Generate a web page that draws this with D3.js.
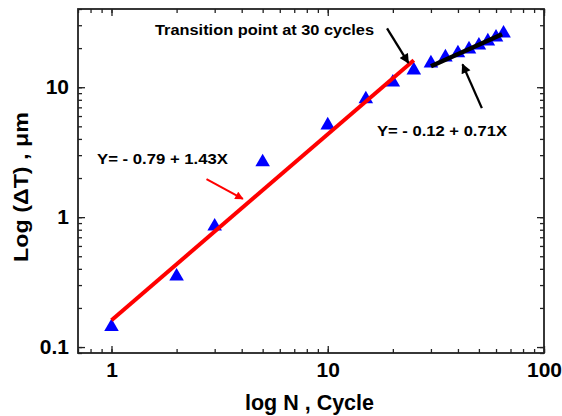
<!DOCTYPE html>
<html>
<head>
<meta charset="utf-8">
<script src="https://cdn.jsdelivr.net/npm/d3@7"></script>
<style>
  body { margin: 0; background: #fff; }
  text { font-family: "Liberation Sans", Arial, sans-serif; font-weight: bold; }
</style>
</head>
<body>
<script>
// measured data: cycles N vs deformation dT (um)
var cycles = [1, 2, 3, 5, 10, 15, 20, 25, 30, 35, 40, 45, 50, 55, 60, 65];
var deltaT = [0.143, 0.35, 0.85, 2.65, 5.1, 8.1, 10.9, 13.5, 15.3, 17.0, 18.3, 19.6, 21.0, 22.6, 24.2, 26.0];

// fitted lines (end points)
var fit1N = [1, 25];
var fit1T = [0.161, 16.1];
var fit2N = [30, 64];
var fit2T = [14.5, 25.6];

var xTickLabels = [1, 10, 100];
var yTickLabels = [0.1, 1, 10];

var margin = {left: 78, top: 9, right: 18, bottom: 63};
var W = 562, H = 416;
var w = W - margin.left - margin.right;
var h = H - margin.top - margin.bottom;

var svg = d3.select("body").append("svg")
    .attr("width", W)
    .attr("height", H);

svg.append("defs").selectAll("marker")
    .data([{id: "headBlack", color: "#000"}, {id: "headRed", color: "#ff0000"}])
    .enter().append("marker")
    .attr("id", function(d){ return d.id; })
    .attr("viewBox", "0 -5 10 10")
    .attr("refX", 9)
    .attr("refY", 0)
    .attr("markerWidth", 4.6)
    .attr("markerHeight", 4.2)
    .attr("markerUnits", "strokeWidth")
    .attr("orient", "auto")
    .append("path")
    .attr("d", "M0,-5L10,0L0,5Z")
    .attr("fill", function(d){ return d.color; });

var g = svg.append("g")
    .attr("transform", "translate(" + margin.left + "," + margin.top + ")");

var x = d3.scaleLog().domain([0.7, 100]).range([0, w]);
var y = d3.scaleLog().domain([0.09, 40]).range([h, 0]);

// minor ticks on all four sides, pointing inward
g.append("g").attr("transform", "translate(0," + h + ")")
    .call(d3.axisBottom(x).tickValues(x.ticks()).tickSize(-4).tickFormat(""));
g.append("g")
    .call(d3.axisTop(x).tickValues(x.ticks()).tickSize(-4).tickFormat(""));
g.append("g")
    .call(d3.axisLeft(y).tickValues(y.ticks()).tickSize(-4).tickFormat(""));
g.append("g").attr("transform", "translate(" + w + ",0)")
    .call(d3.axisRight(y).tickValues(y.ticks()).tickSize(-4).tickFormat(""));

// major ticks + labels
g.append("g").attr("class", "xmajor").attr("transform", "translate(0," + h + ")")
    .call(d3.axisBottom(x).tickValues(xTickLabels).tickSize(-7).tickPadding(9)
        .tickFormat(d3.format("")));
g.append("g").attr("class", "ymajor")
    .call(d3.axisLeft(y).tickValues(yTickLabels).tickSize(-7).tickPadding(9)
        .tickFormat(function(d){ return d < 1 ? "0.1" : d3.format("")(d); }));
g.append("g")
    .call(d3.axisTop(x).tickValues(xTickLabels).tickSize(-7).tickFormat(""));
g.append("g").attr("transform", "translate(" + w + ",0)")
    .call(d3.axisRight(y).tickValues(yTickLabels).tickSize(-7).tickFormat(""));

g.selectAll(".domain").remove();
g.selectAll(".tick line").attr("stroke", "#222").attr("stroke-width", 1.3);
g.selectAll(".xmajor text, .ymajor text")
    .attr("font-size", 21)
    .attr("font-family", "'Liberation Sans', Arial, sans-serif")
    .attr("font-weight", "bold")
    .attr("fill", "#000");

// frame
g.append("rect")
    .attr("width", w)
    .attr("height", h)
    .attr("fill", "none")
    .attr("stroke", "#222")
    .attr("stroke-width", 1.8);

// data points
g.selectAll(".pt").data(cycles).enter()
    .append("path")
    .attr("class", "pt")
    .attr("d", d3.symbol(d3.symbolTriangle).size(92))
    .attr("transform", function(d, i){ return "translate(" + x(d) + "," + y(deltaT[i]) + ")"; })
    .attr("fill", "#0000ff");

// fit lines
var line = d3.line()
    .x(function(d){ return x(d[0]); })
    .y(function(d){ return y(d[1]); });

g.append("path")
    .datum(d3.zip(fit1N, fit1T))
    .attr("d", line)
    .attr("stroke", "#ff0000")
    .attr("stroke-width", 4)
    .attr("fill", "none");

g.append("path")
    .datum(d3.zip(fit2N, fit2T))
    .attr("d", line)
    .attr("stroke", "#000")
    .attr("stroke-width", 4.5)
    .attr("fill", "none");

// annotation arrows (in data coordinates)
var arrows = [
    {from: [18.8, 28.4], to: [23.6, 15.4], color: "#000", head: "headBlack", sw: 2.3},
    {from: [51.6, 6.9], to: [42.0, 15.0], color: "#000", head: "headBlack", sw: 2.3},
    {from: [2.75, 1.96], to: [4.05, 1.38], color: "#ff0000", head: "headRed", sw: 2}
];
g.selectAll(".arrow").data(arrows).enter()
    .append("line")
    .attr("class", "arrow")
    .attr("x1", function(d){ return x(d.from[0]); })
    .attr("y1", function(d){ return y(d.from[1]); })
    .attr("x2", function(d){ return x(d.to[0]); })
    .attr("y2", function(d){ return y(d.to[1]); })
    .attr("stroke", function(d){ return d.color; })
    .attr("stroke-width", function(d){ return d.sw; })
    .attr("marker-end", function(d){ return "url(#" + d.head + ")"; });

// annotation text
var notes = [
    {t: "Transition point at 30 cycles", x: 155, y: 34.5, size: 14, len: 219},
    {t: "Y= - 0.12 + 0.71X", x: 377, y: 136, size: 15.5, len: 130},
    {t: "Y= - 0.79 + 1.43X", x: 97, y: 164, size: 15.5, len: 131}
];
svg.selectAll(".note").data(notes).enter()
    .append("text")
    .attr("class", "note")
    .attr("x", function(d){ return d.x; })
    .attr("y", function(d){ return d.y; })
    .attr("font-size", function(d){ return d.size; })
    .attr("textLength", function(d){ return d.len; })
    .attr("lengthAdjust", "spacingAndGlyphs")
    .text(function(d){ return d.t; });

// axis titles
svg.append("text")
    .attr("x", 245)
    .attr("y", 410)
    .attr("font-size", 21.5)
    .attr("textLength", 129)
    .attr("lengthAdjust", "spacingAndGlyphs")
    .text("log N , Cycle");

svg.append("text")
    .attr("transform", "translate(28," + 262 + ") rotate(-90)")
    .attr("x", 0)
    .attr("y", 0)
    .attr("font-size", 20.5)
    .attr("textLength", 150)
    .attr("lengthAdjust", "spacingAndGlyphs")
    .text("Log (\u0394T) , \u03bcm");
</script>
</body>
</html>
